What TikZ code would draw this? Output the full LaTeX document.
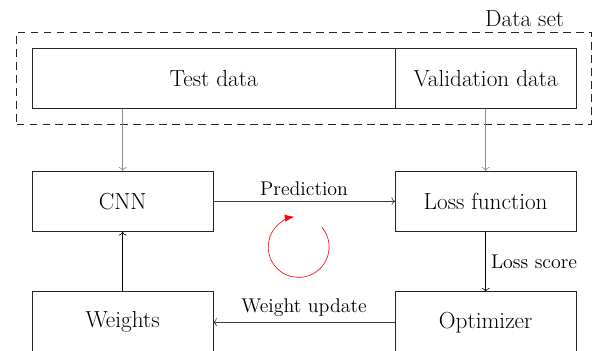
\documentclass[tikz,border=0pt]{standalone}
\usepackage{tikz}
\usetikzlibrary{arrows.meta,positioning,calc,fit}
\definecolor{lineDark}{RGB}{60,60,60}
\definecolor{lineFeed}{RGB}{140,140,140}

\begin{document}
\begin{tikzpicture}[
    blk/.style={draw=black!85, minimum width=4.16cm, minimum height=1.4cm, outer sep=0pt, inner sep=2pt, font=\fontsize{15.2pt}{18pt}\selectfont},
    feed/.style={->, draw=lineFeed},
    flow/.style={->, draw=#1},
    flow/.default=lineDark,
    lbl/.style={font=\fontsize{13pt}{15pt}\selectfont}
]
\useasboundingbox (0,0) rectangle (13.8,-8.073);

% data set
\node[blk, minimum width=8.35cm, anchor=north west] (test) at (0.74,-1.1) {Test data};
\node[blk, right=0pt of test] (valid) {Validation data};
\node[draw=black!85, semithick, dash pattern=on 5pt off 3.5pt, fit=(test)(valid), inner sep=0.36cm] (dataset) {};
\node[font=\fontsize{15.2pt}{18pt}\selectfont, above left=0pt and 0.52cm of dataset.north east] (dslabel) {Data set};

% training loop
\node[blk, below=1.43cm of test.south west, anchor=north west] (cnn) {CNN};
\node[blk, right=4.19cm of cnn] (loss) {Loss function};
\node[blk, below=1.38cm of cnn] (weights) {Weights};
\node[blk, right=4.19cm of weights] (opt) {Optimizer};

\draw[feed] (test.south -| cnn.north) -- (cnn.north);
\draw[feed] (valid.south -| loss.north) -- (loss.north);

\draw[flow] (cnn) -- node[lbl, above] {Prediction} (loss);
\draw[flow=black] (loss) -- node[lbl, right] {Loss score} (opt);
\draw[flow] (opt) -- node[lbl, above] {Weight update} (weights);
\draw[flow=black] (weights) -- (cnn);

\coordinate (cyc) at ($(cnn.east)!0.47!(loss.west)+(0,-1.05)$);
\draw[red, -{Latex[length=2.2mm]}] ([shift={(40:0.7cm)}]cyc) arc[start angle=40, end angle=-262, radius=0.7cm];
\end{tikzpicture}
\end{document}
